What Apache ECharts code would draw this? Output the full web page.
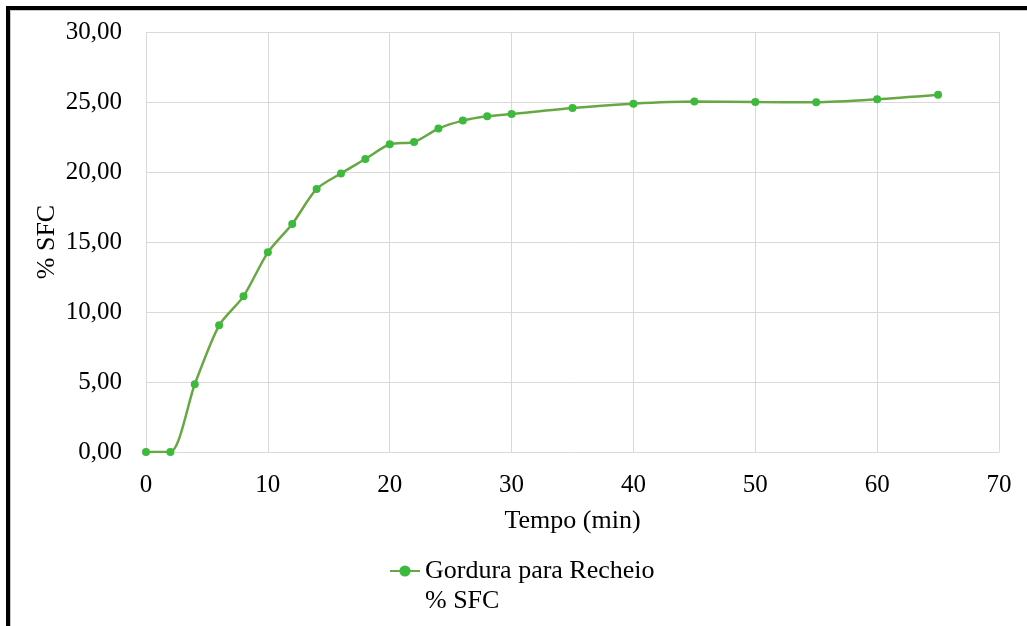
<!DOCTYPE html>
<html>
<head>
<meta charset="utf-8">
<script src="https://cdn.jsdelivr.net/npm/echarts@6/dist/echarts.min.js"></script>
<style>
  html, body { margin: 0; padding: 0; background: #fff; overflow: hidden; }
  #chart { width: 1027px; height: 626px; }
</style>
</head>
<body>
<div id="chart"></div>
<script>
// Solid fat content of the filling fat over time
const seriesName = 'Gordura para Recheio';
const legendSubLine = '% SFC';
const timeMin = [0, 2, 4, 6, 8, 10, 12, 14, 16, 18, 20, 22, 24, 26, 28, 30, 35, 40, 45, 50, 55, 60, 65];
const sfcValues = [0, 0, 4.84, 9.05, 11.12, 14.26, 16.29, 18.79, 19.90, 20.93, 21.98, 22.14, 23.10, 23.67, 23.98, 24.14, 24.57, 24.88, 25.03, 25.00, 24.98, 25.19, 25.52];
const xAxisTitle = 'Tempo (min)';
const yAxisTitle = '% SFC';

const FONT = 'Liberation Serif';
const GRID_COLOR = '#d9d9d9';

const chart = echarts.init(document.getElementById('chart'), null, { renderer: 'canvas' });

chart.setOption({
  backgroundColor: '#ffffff',
  animation: false,
  grid: { left: 146, right: 28, top: 32, bottom: 174, containLabel: false },
  xAxis: {
    type: 'value',
    min: 0,
    max: 70,
    interval: 10,
    name: xAxisTitle,
    nameLocation: 'middle',
    nameGap: 56,
    nameTextStyle: { fontFamily: FONT, fontSize: 26, color: '#000' },
    axisLine: { show: true, lineStyle: { color: GRID_COLOR, width: 1 } },
    axisTick: { show: false },
    axisLabel: { fontFamily: FONT, fontSize: 25, color: '#000', margin: 21 },
    splitLine: { show: true, lineStyle: { color: GRID_COLOR, width: 1 } }
  },
  yAxis: {
    type: 'value',
    min: 0,
    max: 30,
    interval: 5,
    name: yAxisTitle,
    nameLocation: 'middle',
    nameGap: 86,
    nameRotate: 90,
    nameMoveOverlap: false,
    nameTextStyle: { fontFamily: FONT, fontSize: 26, color: '#000' },
    axisLine: { show: false },
    axisTick: { show: false },
    axisLabel: {
      fontFamily: FONT, fontSize: 25, color: '#000', margin: 24,
      formatter: v => v.toFixed(2).replace('.', ',')
    },
    splitLine: { show: true, lineStyle: { color: GRID_COLOR, width: 1 } }
  },
  legend: {
    left: 389,
    top: 526,
    padding: 0,
    itemWidth: 30,
    itemHeight: 14,
    itemGap: 0,
    // a blank leading line keeps the series name level with the icon
    formatter: name => ' \n' + name + '\n' + legendSubLine,
    textStyle: { fontFamily: FONT, fontSize: 26, color: '#000', lineHeight: 30 },
    data: [seriesName]
  },
  series: [{
    name: seriesName,
    type: 'line',
    data: timeMin.map((t, i) => [t, sfcValues[i]]),
    smooth: 0.25,
    symbol: 'circle',
    symbolSize: 8,
    showSymbol: true,
    lineStyle: { color: '#68a844', width: 2.5 },
    itemStyle: { color: '#3dba3d', borderWidth: 0 }
  }],
  graphic: [
    // frame around the figure (top and left edges)
    { type: 'line', shape: { x1: 6, y1: 8, x2: 1027, y2: 8 }, style: { stroke: '#000', lineWidth: 4 }, z: 100 },
    { type: 'line', shape: { x1: 8, y1: 6, x2: 8, y2: 626 }, style: { stroke: '#000', lineWidth: 4 }, z: 100 },
    { type: 'line', shape: { x1: 10, y1: 10.5, x2: 1027, y2: 10.5 }, style: { stroke: '#c8c8c8', lineWidth: 1 }, z: 100 },
    { type: 'line', shape: { x1: 10.5, y1: 10, x2: 10.5, y2: 626 }, style: { stroke: '#c8c8c8', lineWidth: 1 }, z: 100 }
  ]
});
</script>
</body>
</html>
